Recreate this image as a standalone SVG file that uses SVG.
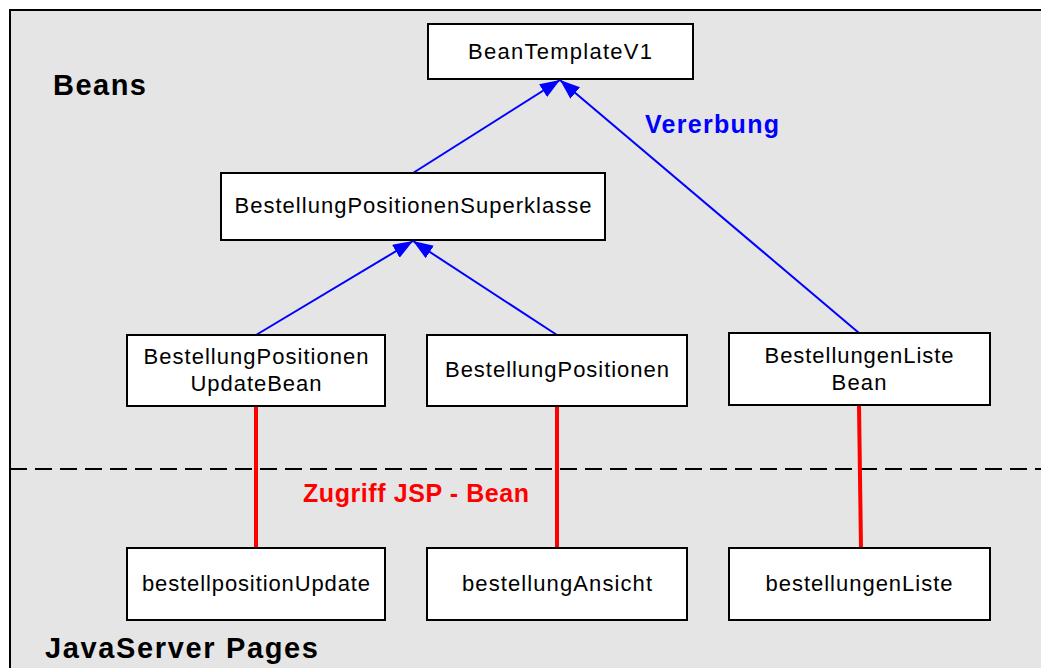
<svg xmlns="http://www.w3.org/2000/svg" width="1041" height="668" viewBox="0 0 1041 668">
  <defs>
    <marker id="inherit" viewBox="0 0 20 15" refX="20" refY="7.5" markerWidth="20" markerHeight="15" markerUnits="userSpaceOnUse" orient="auto">
      <path d="M0,0 L20,7.5 L0,15 Z" fill="#0000ff"/>
    </marker>
    <style>
      .node rect { fill: #ffffff; stroke: #000000; stroke-width: 2; }
      .node text { font-family: "Liberation Sans", Arial, sans-serif; font-size: 22px; fill: #000000; text-anchor: middle; }
      .inherit { stroke: #0000ff; stroke-width: 2; fill: none; marker-end: url(#inherit); }
      .access { stroke: #ff0000; stroke-width: 4; fill: none; }
      .title { font-family: "Liberation Sans", Arial, sans-serif; font-weight: bold; }
    </style>
  </defs>

  <!-- white page and grey layer area -->
  <rect x="0" y="0" width="1041" height="668" fill="#ffffff"/>
  <rect x="10" y="10" width="1040" height="670" fill="#e5e5e5" stroke="#000000" stroke-width="2"/>

  <!-- layer separator -->
  <line x1="10" y1="469" x2="1041" y2="469" stroke="#000000" stroke-width="2" stroke-dasharray="17 8"/>

  <!-- layer titles and labels -->
  <text class="title" x="53" y="95" font-size="29" fill="#000000" textLength="93" lengthAdjust="spacing">Beans</text>
  <text class="title" x="45" y="658" font-size="29" fill="#000000" textLength="273" lengthAdjust="spacing">JavaServer Pages</text>
  <text class="title" x="645" y="133" font-size="25" fill="#0000ff" textLength="134" lengthAdjust="spacing">Vererbung</text>
  <text class="title" x="303" y="502" font-size="25" fill="#ff0000" textLength="226" lengthAdjust="spacing">Zugriff JSP - Bean</text>

  <!-- connectors -->
  <g id="connectors">
    <line class="inherit" x1="413" y1="173" x2="560" y2="80"/>
    <line class="inherit" x1="859" y1="333" x2="560" y2="80"/>
    <line class="inherit" x1="256" y1="335" x2="413" y2="241"/>
    <line class="inherit" x1="557" y1="335" x2="413" y2="241"/>
    <line class="access" x1="256" y1="406" x2="256" y2="548"/>
    <line class="access" x1="557" y1="406" x2="557" y2="548"/>
    <line class="access" x1="859" y1="405" x2="861" y2="548"/>
  </g>

  <!-- beans -->
  <g id="BeanTemplateV1" class="node">
    <rect x="428" y="24" width="265" height="55"/>
    <text x="560" y="59" textLength="184" lengthAdjust="spacing">BeanTemplateV1</text>
  </g>
  <g id="BestellungPositionenSuperklasse" class="node">
    <rect x="221" y="173" width="384" height="67"/>
    <text x="413" y="213" textLength="357" lengthAdjust="spacing">BestellungPositionenSuperklasse</text>
  </g>
  <g id="BestellungPositionenUpdateBean" class="node">
    <rect x="127" y="335" width="258" height="71"/>
    <text x="256" y="364" textLength="225" lengthAdjust="spacing">BestellungPositionen</text>
    <text x="256" y="391" textLength="131" lengthAdjust="spacing">UpdateBean</text>
  </g>
  <g id="BestellungPositionen" class="node">
    <rect x="427" y="335" width="260" height="71"/>
    <text x="557" y="377" textLength="224" lengthAdjust="spacing">BestellungPositionen</text>
  </g>
  <g id="BestellungenListeBean" class="node">
    <rect x="729" y="333" width="261" height="72"/>
    <text x="859" y="363" textLength="189" lengthAdjust="spacing">BestellungenListe</text>
    <text x="859" y="390" textLength="55" lengthAdjust="spacing">Bean</text>
  </g>

  <!-- pages -->
  <g id="bestellpositionUpdate" class="node">
    <rect x="127" y="548" width="258" height="72"/>
    <text x="256" y="591" textLength="228" lengthAdjust="spacing">bestellpositionUpdate</text>
  </g>
  <g id="bestellungAnsicht" class="node">
    <rect x="427" y="548" width="260" height="72"/>
    <text x="557" y="591" textLength="190" lengthAdjust="spacing">bestellungAnsicht</text>
  </g>
  <g id="bestellungenListe" class="node">
    <rect x="729" y="548" width="261" height="72"/>
    <text x="859" y="591" textLength="187" lengthAdjust="spacing">bestellungenListe</text>
  </g>
</svg>
